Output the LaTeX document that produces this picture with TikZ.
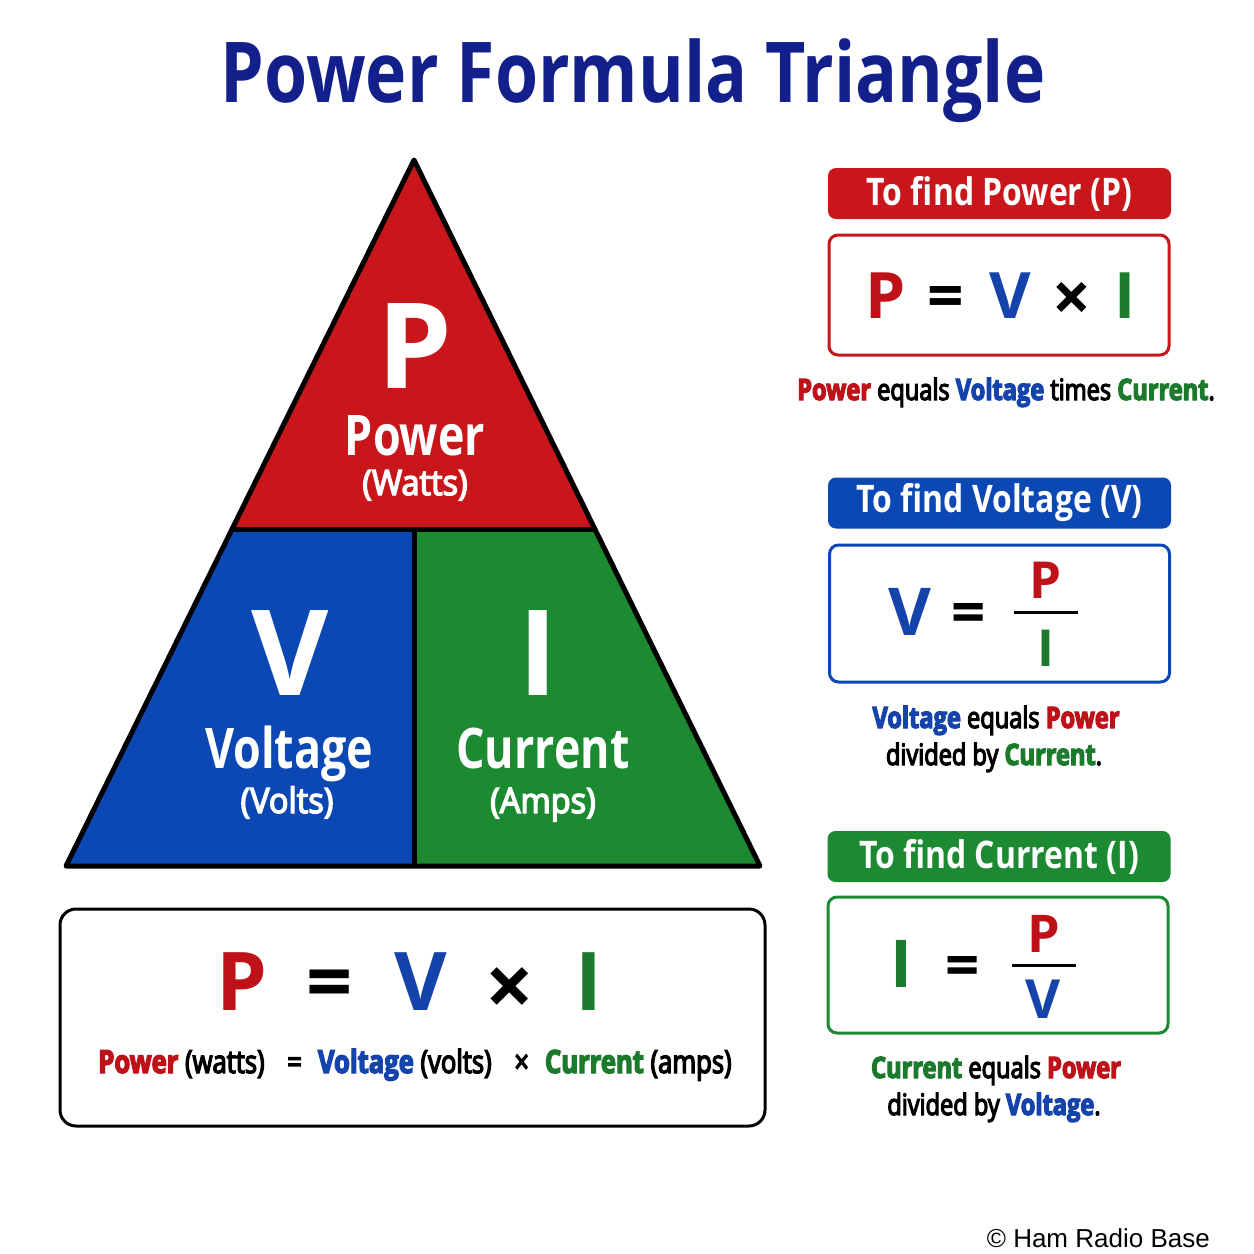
\documentclass[tikz,border=0pt]{standalone}
\usepackage{fontspec}
\setmainfont{Open Sans}[FakeStretch=0.8]
\newfontfamily\titlefont{Open Sans}[FakeStretch=0.83]
\newfontfamily\hdrfont{Open Sans}[FakeStretch=0.84]
\newfontfamily\symfont{Open Sans}
\newfontfamily\medfont{Open Sans}[FakeStretch=0.8,FakeBold=4]
\newfontfamily\unitfont{Open Sans}[FakeStretch=0.93,FakeBold=4]
\newfontfamily\markfont{Liberation Sans}
\usetikzlibrary{positioning,calc}
\definecolor{navy}{HTML}{13208C}
\definecolor{powRed}{HTML}{C8161A}
\definecolor{voltBlue}{HTML}{0B48B4}
\definecolor{curGreen}{HTML}{1B8A30}
\definecolor{powText}{HTML}{BE1218}
\definecolor{voltText}{HTML}{1443AC}
\definecolor{curText}{HTML}{1B7A2C}
\newcommand{\pxsize}[1]{\fontsize{#1}{#1}\selectfont}
\newcommand{\powword}[1]{\textcolor{powText}{\bfseries #1}}
\newcommand{\voltword}[1]{\textcolor{voltText}{\bfseries #1}}
\newcommand{\curword}[1]{\textcolor{curText}{\bfseries #1}}

\begin{document}
\begin{tikzpicture}[x=1pt,y=-1pt,
  lbl/.style={inner sep=0pt,anchor=base},
  big/.style={lbl,text=white,font=\symfont\bfseries\pxsize{119}},
  qty/.style={lbl,text=white,font=\bfseries\pxsize{56}},
  unit/.style={lbl,text=white,font=\unitfont\pxsize{35}},
  sym/.style={lbl,font=\symfont\bfseries\pxsize{#1}},
  hdr/.style={rounded corners=8pt,minimum width=343pt,minimum height=51pt,inner sep=0pt,text=white,font=\hdrfont\bfseries\pxsize{38}},
  frm/.style={draw,line width=3pt,rounded corners=9pt,minimum width=340pt,fill=white},
  capt/.style={lbl,font=\medfont\pxsize{29.5}},
  fracbar/.style={line width=3pt}]
\useasboundingbox (0,0) rectangle (1254,1254);
\fill[white] (0,0) rectangle (1254,1254);

\node[lbl,font=\titlefont\bfseries\pxsize{84},text=navy] (title) at (633,102) {Power Formula Triangle};

% triangle
\coordinate (apex) at (414,160);
\coordinate (bl) at (66,866);
\coordinate (br) at (760,866);
\coordinate (ml) at ($(apex)!0.524!(bl)$);
\coordinate (mr) at ($(apex)!0.524!(br)$);
\coordinate (mid) at (414,530);
\coordinate (bm) at (414,866);
\fill[powRed] (apex) -- (ml) -- (mr) -- cycle;
\fill[voltBlue] (ml) -- (mid) -- (bm) -- (bl) -- cycle;
\fill[curGreen] (mid) -- (mr) -- (br) -- (bm) -- cycle;
\draw[line width=5pt,line join=round] (apex) -- (bl) -- (br) -- cycle;
\draw[line width=5pt] (ml) -- (mr) (mid) -- (bm);

\node[big] (p) at (415,388) {P};
\node[qty] (pname) at (415,455) {Power};
\node[unit] (punit) at (415,495) {(Watts)};
\node[big] (v) at (290,695) {V};
\node[qty] (vname) at (289,768) {Voltage};
\node[unit] (vunit) at (287,813) {(Volts)};
\node[big] (i) at (538,695) {I};
\node[qty] (iname) at (543,768) {Current};
\node[unit] (iunit) at (543,813) {(Amps)};

% summary box
\node[draw,line width=3pt,rounded corners=16pt,minimum width=705pt,minimum height=217pt] (sumbox) at (412.5,1017.5) {};
\node[sym=81,text=powText] (sp) at (242,1010) {P};
\node[sym=81] (seq) at (330,1010) {=};
\node[sym=81,text=voltText] (sv) at (421,1010) {V};
\node[sym=85] (sx) at (510,1016) {×};
\node[sym=81,text=curText] (si) at (589,1010) {I};
\node[lbl,font=\medfont\pxsize{32}] (sline) at (415,1073)
  {\powword{Power} (watts) \enspace=\enspace \voltword{Voltage} (volts) \enspace×\enspace \curword{Current} (amps)};

% find power
\node[hdr,fill=powRed] (h1) at (999.5,193.5) {To find Power (P)};
\node[frm,draw=powRed,minimum height=120pt] (b1) at (999,295) {};
\node[sym=64,text=powText] (p1) at (886,318) {P};
\node[sym=64] (e1) at (946,318) {=};
\node[sym=64,text=voltText] (v1) at (1010,318) {V};
\node[sym=68] (x1) at (1072,321) {×};
\node[sym=64,text=curText] (i1) at (1125,318) {I};
\node[capt] (c1) at (1006,400) {\powword{Power} equals \voltword{Voltage} times \curword{Current}.};

% find voltage
\node[hdr,fill=voltBlue] (h2) at (999.5,503) {To find Voltage (V)};
\node[frm,draw=voltBlue,minimum height=137pt] (b2) at (999.5,613.5) {};
\node[sym=66,text=voltText] (v2) at (910,635) {V};
\node[sym=60] (e2) at (969,633) {=};
\coordinate (f2a) at (1014,612);
\coordinate (f2b) at (1078,612);
\draw[fracbar] (f2a) -- (f2b);
\node[sym=51,text=powText] (p2) at (1046,598) {P};
\node[sym=51,text=curText] (i2) at (1046,666) {I};
\node[capt] (c2a) at (996,728) {\voltword{Voltage} equals \powword{Power}};
\node[capt] (c2b) at (994,765) {divided by \curword{Current}.};

% find current
\node[hdr,fill=curGreen] (h3) at (999,856.5) {To find Current (I)};
\node[frm,draw=curGreen,minimum height=136pt] (b3) at (998,965) {};
\node[sym=66,text=curText] (i3) at (901,987) {I};
\node[sym=60] (e3) at (963,986) {=};
\coordinate (f3a) at (1012,965);
\coordinate (f3b) at (1076,965);
\draw[fracbar] (f3a) -- (f3b);
\node[sym=52,text=powText] (p3) at (1044,952) {P};
\node[sym=54,text=voltText] (v3) at (1043,1018) {V};
\node[capt] (c3a) at (996,1078) {\curword{Current} equals \powword{Power}};
\node[capt] (c3b) at (994,1115) {divided by \voltword{Voltage}.};

\node[lbl,anchor=base east,font=\markfont\pxsize{26}] (mark) at (1210,1247) {© Ham Radio Base};
\end{tikzpicture}
\end{document}
